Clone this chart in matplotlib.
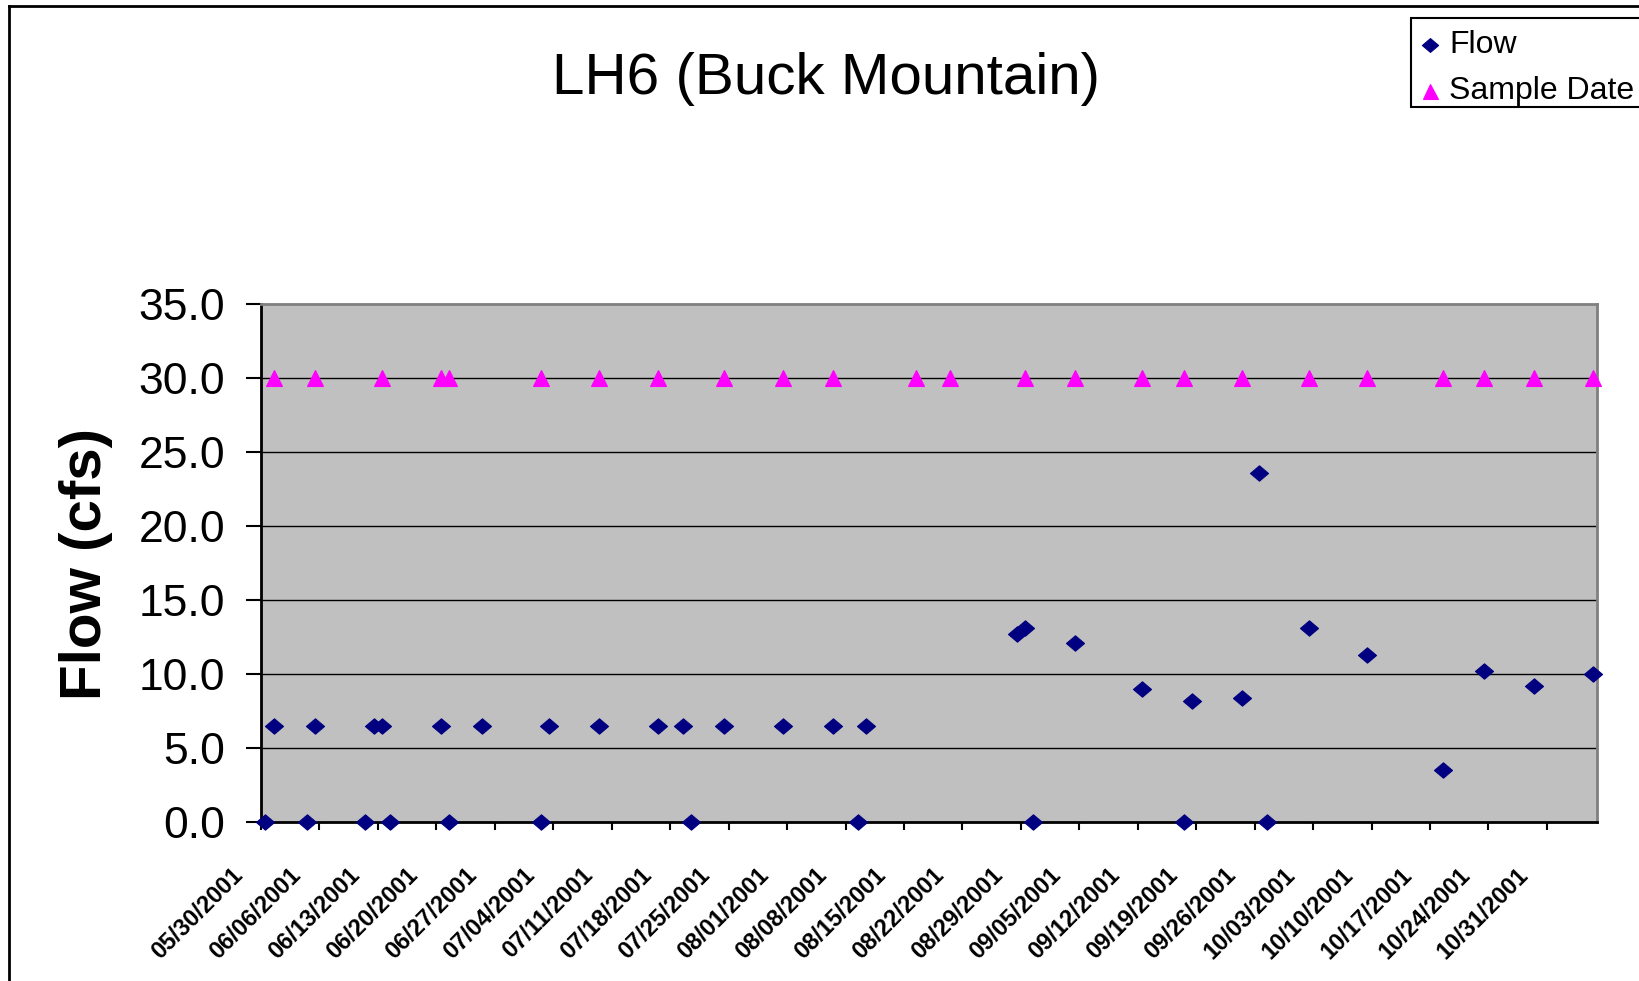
import matplotlib
matplotlib.use("Agg")
import matplotlib.pyplot as plt
import matplotlib.dates as mdates
import matplotlib.transforms as mtransforms
from matplotlib.path import Path
from matplotlib.patches import Rectangle
from matplotlib.lines import Line2D
from datetime import datetime, timedelta

plt.rcParams['font.family'] = ['Liberation Sans', 'DejaVu Sans']

# ---------------- data ----------------
title = "LH6 (Buck Mountain)"
y_label = "Flow (cfs)"
legend_labels = ["Flow", "Sample Date"]

flow_dates = ["05/30/2001", "05/31/2001", "06/04/2001", "06/05/2001", "06/11/2001",
              "06/12/2001", "06/13/2001", "06/14/2001", "06/20/2001", "06/21/2001",
              "06/25/2001", "07/02/2001", "07/03/2001", "07/09/2001", "07/16/2001",
              "07/19/2001", "07/20/2001", "07/24/2001", "07/31/2001", "08/06/2001",
              "08/09/2001", "08/10/2001", "08/28/2001", "08/29/2001", "08/30/2001",
              "09/04/2001", "09/12/2001", "09/17/2001", "09/18/2001", "09/24/2001",
              "09/26/2001", "09/27/2001", "10/02/2001", "10/09/2001", "10/18/2001",
              "10/23/2001", "10/29/2001", "11/05/2001"]
flow_values = [0.0, 6.5, 0.0, 6.5, 0.0,
               6.5, 6.5, 0.0, 6.5, 0.0,
               6.5, 0.0, 6.5, 6.5, 6.5,
               6.5, 0.0, 6.5, 6.5, 6.5,
               0.0, 6.5, 12.7, 13.1, 0.0,
               12.1, 9.0, 0.0, 8.2, 8.4,
               23.6, 0.0, 13.1, 11.3, 3.5,
               10.2, 9.2, 10.0]

sample_dates = ["05/31/2001", "06/05/2001", "06/13/2001", "06/20/2001", "06/21/2001",
                "07/02/2001", "07/09/2001", "07/16/2001", "07/24/2001", "07/31/2001",
                "08/06/2001", "08/16/2001", "08/20/2001", "08/29/2001", "09/04/2001",
                "09/12/2001", "09/17/2001", "09/24/2001", "10/02/2001", "10/09/2001",
                "10/18/2001", "10/23/2001", "10/29/2001", "11/05/2001"]
sample_values = [30.0] * len(sample_dates)

tick_labels = ["05/30/2001", "06/06/2001", "06/13/2001", "06/20/2001", "06/27/2001",
               "07/04/2001", "07/11/2001", "07/18/2001", "07/25/2001", "08/01/2001",
               "08/08/2001", "08/15/2001", "08/22/2001", "08/29/2001", "09/05/2001",
               "09/12/2001", "09/19/2001", "09/26/2001", "10/03/2001", "10/10/2001",
               "10/17/2001", "10/24/2001", "10/31/2001"]
x_start = "05/30/2001"
x_end = "11/06/2001"
y_ticks = [0.0, 5.0, 10.0, 15.0, 20.0, 25.0, 30.0, 35.0]

# ---------------- helpers ----------------
def to_num(s, half_day=False):
    d = datetime.strptime(s, "%m/%d/%Y")
    if half_day:
        d = d + timedelta(hours=12)
    return mdates.date2num(d)

fx = [to_num(s, True) for s in flow_dates]
sx = [to_num(s, True) for s in sample_dates]
tx = [to_num(s) for s in tick_labels]

diamond = Path([(-1.0, 0.0), (0.0, 0.85), (1.0, 0.0), (0.0, -0.85), (-1.0, 0.0)],
               [Path.MOVETO, Path.LINETO, Path.LINETO, Path.LINETO, Path.CLOSEPOLY])
flow_color = "#000080"
sample_color = "#FF00FF"
d_ms, t_ms = 13, 12

# ---------------- figure ----------------
W, H = 1639, 981
fig = plt.figure(figsize=(W / 100, H / 100), dpi=100)
fig.patch.set_facecolor("white")

left, right, top, bottom = 261, 1597, 304, 822
ax = fig.add_axes([left / W, 1 - bottom / H, (right - left) / W, (bottom - top) / H])
ax.set_facecolor("#C0C0C0")

ax.set_xlim(to_num(x_start), to_num(x_end))
ax.set_ylim(0, 35)

ax.set_yticks(y_ticks)
ax.set_yticklabels([f"{v:.1f}" for v in y_ticks])
ax.set_xticks(tx)
ax.set_xticklabels(tick_labels)

for v in y_ticks[1:-1]:
    ax.axhline(v, color="black", lw=1.0, zorder=1)

ax.plot(fx, flow_values, linestyle="none", marker=diamond, markersize=d_ms,
        color=flow_color, markeredgewidth=0.8, clip_on=False, zorder=3)
ax.plot(sx, sample_values, linestyle="none", marker="^", markersize=t_ms,
        color=sample_color, markeredgewidth=0.8, clip_on=False, zorder=3)

for s in ["left", "bottom"]:
    ax.spines[s].set_color("black")
    ax.spines[s].set_linewidth(2.0)
for s in ["top", "right"]:
    ax.spines[s].set_color("#808080")
    ax.spines[s].set_linewidth(2.0)

ax.tick_params(axis="y", direction="out", length=11, width=1.5, pad=15,
               labelsize=32, colors="black")
ax.tick_params(axis="x", direction="out", length=6, width=1.5, pad=0,
               labelsize=17)

offset = mtransforms.ScaledTranslation(-0.30, -0.33, fig.dpi_scale_trans)
for lab in ax.get_xticklabels():
    lab.set_rotation(45)
    lab.set_rotation_mode("anchor")
    lab.set_ha("right")
    lab.set_va("top")
    lab.set_fontweight("bold")
    lab.set_transform(lab.get_transform() + offset)

fig.text(826 / W, 1 - 79 / H, title, ha="center", va="center", fontsize=42)
fig.text(86 / W, 1 - 564 / H, y_label, ha="center", va="center", rotation=90,
         fontsize=42, fontweight="bold")

# legend box (runs off the right edge like the original)
fig.add_artist(Rectangle((1411 / W, 1 - 107 / H), 300 / W, 89 / H,
                         transform=fig.transFigure, facecolor="white",
                         edgecolor="black", lw=1.5))
leg_rows = [(45, diamond, d_ms, flow_color), (91, "^", t_ms, sample_color)]
for (yy, mk, ms, col), lbl in zip(leg_rows, legend_labels):
    fig.add_artist(Line2D([1430 / W], [1 - yy / H], marker=mk, markersize=ms * 0.9,
                          color=col, markeredgewidth=0.8, linestyle="none",
                          transform=fig.transFigure))
    fig.text(1449 / W, 1 - yy / H, lbl, ha="left", va="center", fontsize=23)

# outer chart border (runs off right and bottom)
fig.add_artist(Line2D([9 / W, 9 / W], [0, 1 - 6 / H], color="black", lw=2,
                      transform=fig.transFigure))
fig.add_artist(Line2D([9 / W, 1], [1 - 6 / H, 1 - 6 / H], color="black", lw=2,
                      transform=fig.transFigure))

fig.savefig("out.png", dpi=100)
